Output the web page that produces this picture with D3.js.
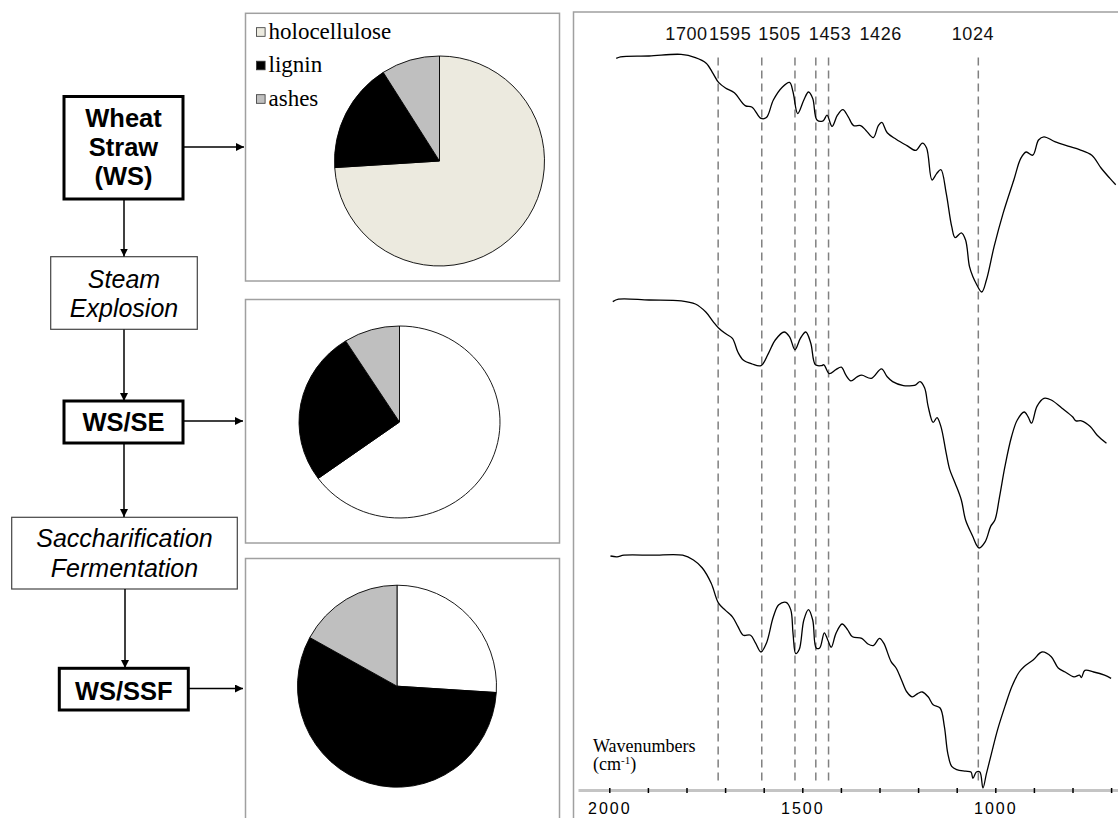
<!DOCTYPE html>
<html lang="en">
<head>
<meta charset="utf-8">
<title>Wheat straw composition and FTIR</title>
<script src="https://cdn.jsdelivr.net/npm/d3@7/dist/d3.min.js"></script>
<style>
    body { margin: 0; background: #fff; }
    svg { display: block; }
</style>
</head>
<body>
<script>

// ---- data ----
var categories = ["holocellulose", "lignin", "ashes"];
var wsComp     = [74, 17, 9];    // Wheat Straw
var wsseComp   = [65, 26, 9];    // WS/SE
var wsssfComp  = [26, 57, 17];   // WS/SSF

var bandLabels   = ["1700", "1595", "1505", "1453", "1426", "1024"];
var bandLinePos  = [1718, 1605, 1519, 1465, 1432, 1044];   // where the dashed guides sit on the axis
var bandLabelPos = [1800, 1687, 1559, 1428, 1297, 1058];   // where the labels sit

var xTicks      = d3.range(2000, 699, -100);
var xTickLabels = [2000, 1500, 1000];

// spectra: [wavenumber, transmittance (a.u., stacked)]
var specWS = [[1982,92.7],[1971,92.9],[1897,93.0],[1814,93.2],[1777,92.8],[1749,92.1],[1731,90.8],[1717,89.7],[1699,89.0],[1676,88.4],[1648,86.8],[1630,86.6],[1607,85.2],[1593,85.3],[1575,87.5],[1552,89.1],[1533,89.7],[1524,88.5],[1512,85.8],[1496,87.5],[1484,88.5],[1473,87.7],[1462,85.0],[1446,84.9],[1436,85.6],[1423,84.2],[1409,85.6],[1395,86.3],[1381,85.4],[1367,84.3],[1349,84.3],[1335,83.7],[1316,82.8],[1303,84.3],[1294,84.7],[1280,83.4],[1257,82.6],[1229,81.8],[1206,81.2],[1189,82.1],[1178,81.5],[1164,77.5],[1152,78.3],[1141,78.8],[1127,75.8],[1113,71.7],[1104,70.3],[1088,70.9],[1077,70.0],[1067,66.7],[1058,65.4],[1050,64.6],[1035,63.5],[1023,65.0],[1003,69.2],[980,73.3],[952,77.5],[934,80.2],[920,81.0],[903,80.6],[888,82.5],[874,82.9],[846,82.3],[809,81.7],[782,81.3],[750,80.6],[726,79.0],[703,77.7],[688,76.9]];

var specWSSE = [[1991,62.3],[1976,62.6],[1897,62.5],[1814,62.4],[1777,62.0],[1750,61.0],[1731,59.8],[1717,59.0],[1699,58.3],[1681,57.7],[1667,56.0],[1653,55.0],[1630,54.5],[1607,54.3],[1588,55.8],[1570,57.5],[1547,58.5],[1533,57.9],[1519,56.3],[1505,57.7],[1491,58.5],[1478,57.1],[1466,54.4],[1450,54.3],[1444,54.4],[1430,53.3],[1413,53.8],[1399,54.1],[1387,53.1],[1374,52.4],[1358,52.9],[1346,53.1],[1321,52.7],[1295,53.9],[1280,52.9],[1266,52.3],[1238,51.8],[1215,51.8],[1206,51.9],[1195,52.3],[1183,51.5],[1174,49.2],[1161,47.2],[1151,47.8],[1141,46.7],[1127,43.3],[1118,41.3],[1104,39.6],[1088,37.5],[1077,35.0],[1058,32.9],[1049,31.9],[1042,31.5],[1026,32.3],[1012,34.2],[1001,35.0],[989,37.9],[975,41.7],[958,45.4],[943,47.5],[925,48.5],[915,47.9],[906,47.1],[892,49.2],[874,50.2],[855,50.0],[828,49.0],[800,47.9],[791,47.4],[777,47.4],[754,46.7],[736,45.6],[712,44.6]];

var specWSSSF = [[1997,30.5],[1980,30.4],[1962,30.6],[1888,30.6],[1810,30.6],[1782,30.0],[1759,29.0],[1736,27.1],[1717,24.6],[1699,23.7],[1681,22.9],[1667,21.7],[1653,20.6],[1634,20.6],[1621,19.6],[1607,18.5],[1593,19.6],[1575,22.9],[1561,24.4],[1542,24.7],[1530,23.8],[1524,20.8],[1517,18.3],[1508,18.8],[1496,22.5],[1484,23.8],[1473,22.5],[1464,19.0],[1455,19.0],[1443,20.9],[1434,20.0],[1425,19.1],[1413,20.8],[1397,22.0],[1383,21.3],[1370,20.4],[1346,20.2],[1330,19.5],[1316,19.3],[1300,20.2],[1289,19.6],[1270,17.3],[1257,16.5],[1243,15.0],[1229,13.5],[1215,12.9],[1201,13.3],[1189,13.5],[1174,12.9],[1161,11.9],[1143,11.5],[1132,9.2],[1123,5.8],[1113,4.2],[1100,3.8],[1077,3.6],[1063,3.5],[1058,2.7],[1049,3.5],[1040,3.5],[1032,1.5],[1023,3.3],[1010,5.8],[994,8.8],[975,11.7],[957,14.2],[938,16.0],[925,16.7],[902,17.5],[879,18.5],[855,17.9],[837,16.5],[819,16.0],[796,15.4],[782,15.6],[777,15.3],[768,16.2],[745,16.0],[717,15.6],[700,15.2]];

var W = 1118, H = 818;
var svg = d3.select("body").append("svg").attr("width", W).attr("height", H);

var sans = "Arial, 'Liberation Sans', sans-serif";
var serif = "'Times New Roman', 'Liberation Serif', serif";

// arrow head
svg.append("defs").append("marker")
    .attr("id", "head")
    .attr("markerUnits", "userSpaceOnUse")
    .attr("viewBox", "0 0 10 10")
    .attr("refX", 10).attr("refY", 5)
    .attr("markerWidth", 8).attr("markerHeight", 8)
    .attr("orient", "auto")
  .append("path").attr("d", "M0,0 L10,5 L0,10 z").attr("fill", "#000");

// ---------------- flow chart ----------------
var boxes = [
    {lines: ["Wheat", "Straw", "(WS)"], x: 64, y: 96.5, w: 119, h: 102.5, bold: true, base: [127, 156, 185]},
    {lines: ["Steam", "Explosion"], x: 50.7, y: 256.7, w: 146.6, h: 72.6, bold: false, base: [288, 316.5]},
    {lines: ["WS/SE"], x: 64, y: 401, w: 119, h: 42, bold: true, base: [431]},
    {lines: ["Saccharification", "Fermentation"], x: 11.7, y: 517.3, w: 225.6, h: 71.7, bold: false, base: [546.5, 576.5]},
    {lines: ["WS/SSF"], x: 59.3, y: 668.3, w: 129, h: 41.7, bold: true, base: [700]}
];

var flow = svg.append("g");
boxes.forEach(function(b) {
    flow.append("rect")
        .attr("x", b.x).attr("y", b.y).attr("width", b.w).attr("height", b.h)
        .attr("fill", "#fff")
        .attr("stroke", b.bold ? "#000" : "#444")
        .attr("stroke-width", b.bold ? 3 : 1.2);
    b.lines.forEach(function(t, i) {
        flow.append("text")
            .attr("x", b.x + b.w / 2).attr("y", b.base[i])
            .attr("text-anchor", "middle")
            .attr("font-family", sans)
            .attr("font-size", b.bold ? 25.5 : 25)
            .attr("font-weight", b.bold ? "bold" : "normal")
            .attr("font-style", b.bold ? "normal" : "italic")
            .attr("fill", "#000")
            .text(t);
    });
});

var arrows = [
    [183, 147, 244, 147],
    [124, 199, 124, 256.5],
    [124, 329.5, 124, 401],
    [183, 421, 243, 421],
    [124, 443, 124, 517],
    [125, 589, 125, 668],
    [188, 688.5, 243, 688.5]
];
flow.selectAll("line.arrow").data(arrows).enter().append("line")
    .attr("class", "arrow")
    .attr("x1", function(d) { return d[0]; })
    .attr("y1", function(d) { return d[1]; })
    .attr("x2", function(d) { return d[2]; })
    .attr("y2", function(d) { return d[3]; })
    .attr("stroke", "#000").attr("stroke-width", 1.5)
    .attr("marker-end", "url(#head)");

// ---------------- pies ----------------
var panels = [
    {y: 13.3, h: 267.7, comp: wsComp,    cx: 439.5, cy: 161,   rx: 105,   ry: 105, holo: "#eceadf"},
    {y: 299.5, h: 243.5, comp: wsseComp,  cx: 399.5, cy: 422,   rx: 100.5, ry: 96,  holo: "#ffffff"},
    {y: 558.5, h: 300,   comp: wsssfComp, cx: 397,   cy: 686.2, rx: 99.5,  ry: 101, holo: "#ffffff"}
];

var pie = d3.pie().sort(null).value(function(d) { return d; });

panels.forEach(function(p) {
    svg.append("rect")
        .attr("x", 245.5).attr("y", p.y).attr("width", 314).attr("height", p.h)
        .attr("fill", "#fff").attr("stroke", "#a0a0a0").attr("stroke-width", 1.5);

    var colors = [p.holo, "#000000", "#bfbfbf"];
    var arc = d3.arc().innerRadius(0).outerRadius(p.rx);
    var g = svg.append("g")
        .attr("transform", "translate(" + p.cx + "," + p.cy + ") scale(1," + (p.ry / p.rx) + ")");
    g.selectAll("path").data(pie(p.comp)).enter().append("path")
        .attr("d", arc)
        .attr("fill", function(d, i) { return colors[i]; })
        .attr("stroke", "#000")
        .attr("stroke-width", 0.9)
        .attr("vector-effect", "non-scaling-stroke");
});

// legend (first panel)
var legendColors = ["#eceadf", "#000000", "#bfbfbf"];
var legendY = [32, 65.5, 99];
var legend = svg.append("g");
categories.forEach(function(c, i) {
    legend.append("rect")
        .attr("x", 256.5).attr("y", legendY[i] - 4.3).attr("width", 8.6).attr("height", 8.6)
        .attr("fill", legendColors[i]).attr("stroke", "#333").attr("stroke-width", 0.8);
    legend.append("text")
        .attr("x", 268.5).attr("y", legendY[i] + 6.5)
        .attr("font-family", serif).attr("font-size", 23)
        .attr("fill", "#000")
        .text(c);
});

// ---------------- FTIR spectra ----------------
svg.append("rect")
    .attr("x", 573.5).attr("y", 12).attr("width", 700).attr("height", 900)
    .attr("fill", "none").attr("stroke", "#a0a0a0").attr("stroke-width", 1.5);

var x = d3.scaleLinear().domain([2000, 1000]).range([609.3, 995.3]);
var y = d3.scaleLinear().domain([0, 100]).range([800, 0]);

// dashed band guides
svg.selectAll("line.band").data(bandLinePos).enter().append("line")
    .attr("class", "band")
    .attr("x1", function(d) { return x(d); })
    .attr("x2", function(d) { return x(d); })
    .attr("y1", 57.5).attr("y2", 785)
    .attr("stroke", "#808080").attr("stroke-width", 1.5)
    .attr("stroke-dasharray", "8,5");

svg.selectAll("text.band").data(bandLabels).enter().append("text")
    .attr("class", "band")
    .attr("x", function(d, i) { return x(bandLabelPos[i]); })
    .attr("y", 40)
    .attr("text-anchor", "middle")
    .attr("font-family", sans).attr("font-size", 18)
    .attr("letter-spacing", "0.6px")
    .attr("fill", "#111")
    .text(function(d) { return d; });

var line = d3.line()
    .x(function(d) { return x(d[0]); })
    .y(function(d) { return y(d[1]); })
    .curve(d3.curveCatmullRom.alpha(0.5));

[specWS, specWSSE, specWSSSF].forEach(function(s) {
    svg.append("path")
        .datum(s)
        .attr("d", line)
        .attr("fill", "none")
        .attr("stroke", "#000")
        .attr("stroke-width", 1.3)
        .attr("stroke-linejoin", "round");
});

// x axis
var xAxisScale = x.copy().domain([x.invert(578), x.invert(1118)]).range([578, 1118]);
var xAxis = d3.axisBottom(xAxisScale)
    .tickValues(xTicks)
    .tickSizeOuter(0)
    .tickSizeInner(3)
    .tickFormat(function(d) { return xTickLabels.indexOf(d) >= 0 ? d : ""; });

var gx = svg.append("g").attr("transform", "translate(0,790)").call(xAxis);
gx.select(".domain").attr("stroke", "#c4c4c4").attr("stroke-width", 3);
gx.selectAll(".tick line").attr("stroke", "#000").attr("stroke-width", 1.5).attr("y1", -2);
gx.selectAll(".tick text")
    .attr("y", 13).attr("dy", "0.71em")
    .attr("font-family", sans).attr("font-size", 16)
    .attr("letter-spacing", "2px")
    .attr("fill", "#000");

// axis title
svg.append("text")
    .attr("x", 593).attr("y", 752)
    .attr("font-family", serif).attr("font-size", 18)
    .attr("fill", "#000")
    .text("Wavenumbers");
var unit = svg.append("text")
    .attr("x", 593).attr("y", 770)
    .attr("font-family", serif).attr("font-size", 18)
    .attr("fill", "#000");
unit.append("tspan").text("(cm");
unit.append("tspan").attr("dy", -6).attr("font-size", 11).text("-1");
unit.append("tspan").attr("dy", 6).text(")");

</script>
</body>
</html>
